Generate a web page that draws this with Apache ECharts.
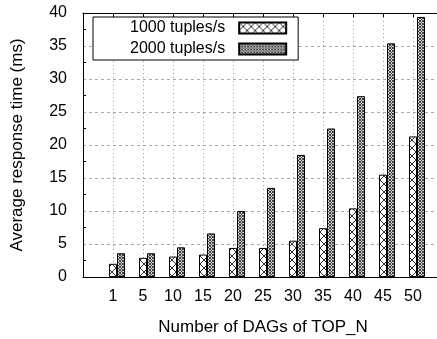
<!DOCTYPE html>
<html>
<head>
<meta charset="utf-8">
<script src="https://cdn.jsdelivr.net/npm/echarts@6/dist/echarts.min.js"></script>
<style>
html,body{margin:0;padding:0;background:#fff;}
#chart{width:437px;height:339px;}
</style>
</head>
<body>
<div id="chart"></div>
<script>
const categories = ['1','5','10','15','20','25','30','35','40','45','50'];
const seriesNames = ['1000 tuples/s','2000 tuples/s'];
const values1000 = [2.0, 2.9, 3.1, 3.4, 4.4, 4.4, 5.5, 7.4, 10.4, 15.5, 21.3];
const values2000 = [3.6, 3.6, 4.5, 6.6, 10.0, 13.5, 18.5, 22.5, 27.4, 35.4, 39.4];
const yTicks = [0, 5, 10, 15, 20, 25, 30, 35, 40];

function makePattern(size, bg, fg, lw) {
  const c = document.createElement('canvas');
  c.width = size; c.height = size;
  const g = c.getContext('2d');
  g.fillStyle = bg; g.fillRect(0, 0, size, size);
  g.strokeStyle = fg; g.lineWidth = lw;
  g.beginPath();
  g.moveTo(0, 0); g.lineTo(size, size);
  g.moveTo(size, 0); g.lineTo(0, size);
  g.stroke();
  return c;
}
const pat1 = makePattern(8, '#ffffff', '#333333', 1);
const pat2 = makePattern(3, '#d0d0d0', '#444444', 1);

const axisData = [''].concat(categories, ['']);
const d1 = [null].concat(values1000, [null]);
const d2 = [null].concat(values2000, [null]);
const pad = axisData.map(() => null);

const font = 'Liberation Sans, Arial, Helvetica, sans-serif';
const chart = echarts.init(document.getElementById('chart'));
chart.setOption({
  animation: false,
  backgroundColor: '#fff',
  textStyle: { fontFamily: font },
  grid: { left: 83, top: 13, width: 360, height: 264, outerBoundsMode: 'none', containLabel: false },
  legend: {
    data: seriesNames,
    orient: 'vertical',
    left: 93, top: 17,
    align: 'right',
    backgroundColor: '#fff',
    borderColor: '#000', borderWidth: 1, borderRadius: 0,
    padding: [3, 11, 3, 37],
    itemWidth: 47, itemHeight: 11, itemGap: 5,
    icon: 'rect',
    textStyle: { fontSize: 16, color: '#000', fontFamily: font, padding: [0, 9, 0, 0], lineHeight: 16 }
  },
  xAxis: [{
    type: 'category', data: axisData, boundaryGap: false, position: 'bottom',
    axisLine: { lineStyle: { color: '#000', width: 1 } },
    axisTick: { inside: true, length: 4, lineStyle: { color: '#000' } },
    axisLabel: { fontSize: 16, color: '#000', margin: 12, interval: 0 },
    splitLine: { show: true, lineStyle: { type: [1, 3], color: '#999' } },
    name: 'Number of DAGs of TOP_N', nameLocation: 'middle', nameGap: 42,
    nameTextStyle: { fontSize: 17, color: '#000' }
  }, {
    type: 'category', data: axisData, boundaryGap: false, position: 'top',
    axisLine: { lineStyle: { color: '#000', width: 1 } },
    axisTick: { inside: true, length: 4, lineStyle: { color: '#000' } },
    axisLabel: { show: false },
    splitLine: { show: false }
  }],
  yAxis: {
    type: 'value', min: yTicks[0], max: yTicks[yTicks.length - 1], interval: 5,
    axisLine: { show: true, lineStyle: { color: '#000', width: 1 } },
    axisTick: { inside: true, length: 5, lineStyle: { color: '#000' } },
    minorTick: { show: true, splitNumber: 2, length: 3, lineStyle: { color: '#000' } },
    axisLabel: { fontSize: 16, color: '#000', margin: 16 },
    splitLine: { show: true, lineStyle: { type: [3, 3], color: '#aaa' } },
    name: 'Average response time (ms)', nameLocation: 'middle', nameGap: 57,
    nameTextStyle: { fontSize: 17, color: '#000' }
  },
  series: [{
    name: 'pad', type: 'bar', data: pad, barWidth: 8, barGap: '0%',
    itemStyle: { color: 'transparent' }, silent: true
  }, {
    name: seriesNames[0], type: 'bar', data: d1, barWidth: 8, barGap: '0%',
    itemStyle: { color: { image: pat1, repeat: 'repeat' }, borderColor: '#000', borderWidth: 1 }
  }, {
    name: seriesNames[1], type: 'bar', data: d2, barWidth: 8, barGap: '0%',
    itemStyle: { color: { image: pat2, repeat: 'repeat' }, borderColor: '#000', borderWidth: 1 }
  }]
});
</script>
</body>
</html>
